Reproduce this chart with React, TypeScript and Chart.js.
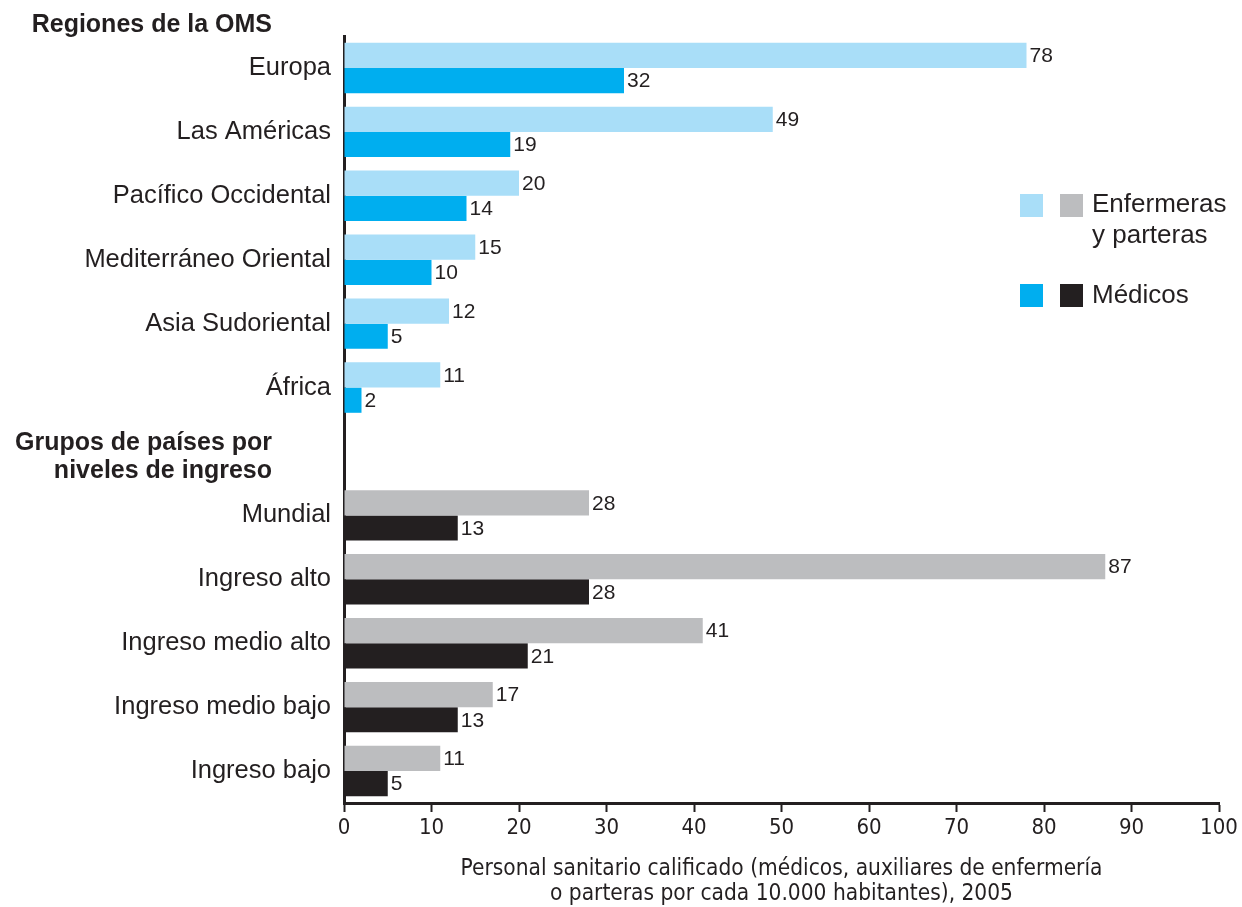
import React, { useEffect, useRef } from "react";
import { Chart, registerables } from "chart.js";

Chart.register(...registerables);

const categories = [
  "Europa",
  "Las Américas",
  "Pacífico Occidental",
  "Mediterráneo Oriental",
  "Asia Sudoriental",
  "África",
  "",
  "Mundial",
  "Ingreso alto",
  "Ingreso medio alto",
  "Ingreso medio bajo",
  "Ingreso bajo",
];

const nurses = [78, 49, 20, 15, 12, 11, null, 28, 87, 41, 17, 11];
const doctors = [32, 19, 14, 10, 5, 2, null, 13, 28, 21, 13, 5];

const xTicks = [0, 10, 20, 30, 40, 50, 60, 70, 80, 90, 100];
const axisTitle = [
  "Personal sanitario calificado (médicos, auxiliares de enfermería",
  "o parteras por cada 10.000 habitantes), 2005",
];
const headerRegions = "Regiones de la OMS";
const headerGroups = ["Grupos de países por", "niveles de ingreso"];
const legendNurses = ["Enfermeras", "y parteras"];
const legendDoctors = "Médicos";

const LIGHT_BLUE = "#a9def8";
const BLUE = "#00aeef";
const GRAY = "#bcbdbf";
const BLACK = "#231f20";
const TEXT = "#231f20";

const isRegion = (i: number) => i < 6;

const SANS = "'Liberation Sans', Arial, Helvetica, sans-serif";
const NARROW = "'DejaVu Sans Condensed', 'Liberation Sans Narrow', sans-serif";

const overlayPlugin = {
  id: "overlay",
  afterDatasetsDraw(chart: any) {
    const ctx = chart.ctx;
    ctx.save();
    ctx.fillStyle = TEXT;
    ctx.font = `21px ${SANS}`;
    ctx.textAlign = "left";
    ctx.textBaseline = "middle";
    chart.data.datasets.forEach((ds: any, di: number) => {
      const meta = chart.getDatasetMeta(di);
      meta.data.forEach((el: any, i: number) => {
        const v = ds.data[i];
        if (v === null || v === undefined) return;
        ctx.fillText(String(v), el.x + 3, el.y + 1);
      });
    });
    ctx.restore();
  },
  afterDraw(chart: any) {
    const ctx = chart.ctx;
    ctx.save();
    ctx.fillStyle = TEXT;
    ctx.textBaseline = "middle";
    ctx.font = `bold 25px ${SANS}`;
    ctx.textAlign = "right";
    ctx.fillText(headerRegions, 272, 25);
    ctx.fillText(headerGroups[0], 272, 443);
    ctx.fillText(headerGroups[1], 272, 471);
    const sq = 23;
    ctx.fillStyle = LIGHT_BLUE;
    ctx.fillRect(1020, 194, sq, sq);
    ctx.fillStyle = GRAY;
    ctx.fillRect(1060, 194, sq, sq);
    ctx.fillStyle = BLUE;
    ctx.fillRect(1020, 284, sq, sq);
    ctx.fillStyle = BLACK;
    ctx.fillRect(1060, 284, sq, sq);
    ctx.fillStyle = TEXT;
    ctx.textAlign = "left";
    ctx.font = `26px ${SANS}`;
    ctx.fillText(legendNurses[0], 1092, 205);
    ctx.fillText(legendNurses[1], 1092, 236);
    ctx.fillText(legendDoctors, 1092, 296);
    ctx.restore();
  },
};

export default function App() {
  const canvasRef = useRef<HTMLCanvasElement | null>(null);

  useEffect(() => {
    if (!canvasRef.current) return;
    const chart = new Chart(canvasRef.current, {
      type: "bar",
      data: {
        labels: categories,
        datasets: [
          {
            label: "Enfermeras y parteras",
            data: nurses,
            backgroundColor: categories.map((_, i) => (isRegion(i) ? LIGHT_BLUE : GRAY)),
            borderWidth: 0,
          },
          {
            label: "Médicos",
            data: doctors,
            backgroundColor: categories.map((_, i) => (isRegion(i) ? BLUE : BLACK)),
            borderWidth: 0,
          },
        ],
      },
      options: {
        indexAxis: "y",
        animation: false,
        responsive: true,
        maintainAspectRatio: false,
        layout: { padding: { top: 36, right: 23, left: 0, bottom: 0 } },
        datasets: { bar: { categoryPercentage: 0.79, barPercentage: 1.0 } },
        plugins: {
          legend: { display: false },
          tooltip: { enabled: false },
        },
        scales: {
          x: {
            type: "linear",
            min: 0,
            max: 100,
            afterBuildTicks(scale: any) {
              scale.ticks = xTicks.map((v) => ({ value: v }));
            },
            afterFit(scale: any) {
              scale.height = 104;
            },
            grid: {
              drawOnChartArea: false,
              drawTicks: true,
              tickLength: 9,
              tickColor: BLACK,
              tickWidth: 2,
            },
            border: { display: true, color: BLACK, width: 3 },
            ticks: {
              color: TEXT,
              padding: 3,
              maxRotation: 0,
              font: { family: NARROW, size: 22 },
            },
            title: {
              display: true,
              text: axisTitle,
              color: TEXT,
              font: { family: NARROW, size: 22.5, lineHeight: 1.12 },
              padding: { top: 0, bottom: 0 },
            },
          },
          y: {
            type: "category",
            afterFit(scale: any) {
              scale.width = 344;
            },
            grid: { display: false, drawTicks: false },
            border: { display: true, color: BLACK, width: 3 },
            ticks: {
              color: TEXT,
              padding: 13,
              font: { family: SANS, size: 25.5 },
            },
          },
        },
      },
      plugins: [overlayPlugin],
    } as any);
    return () => chart.destroy();
  }, []);

  return (
    <div
      style={{
        position: "fixed",
        left: 0,
        top: 0,
        width: "1242px",
        height: "907px",
        background: "#ffffff",
      }}
    >
      <canvas ref={canvasRef} />
    </div>
  );
}
